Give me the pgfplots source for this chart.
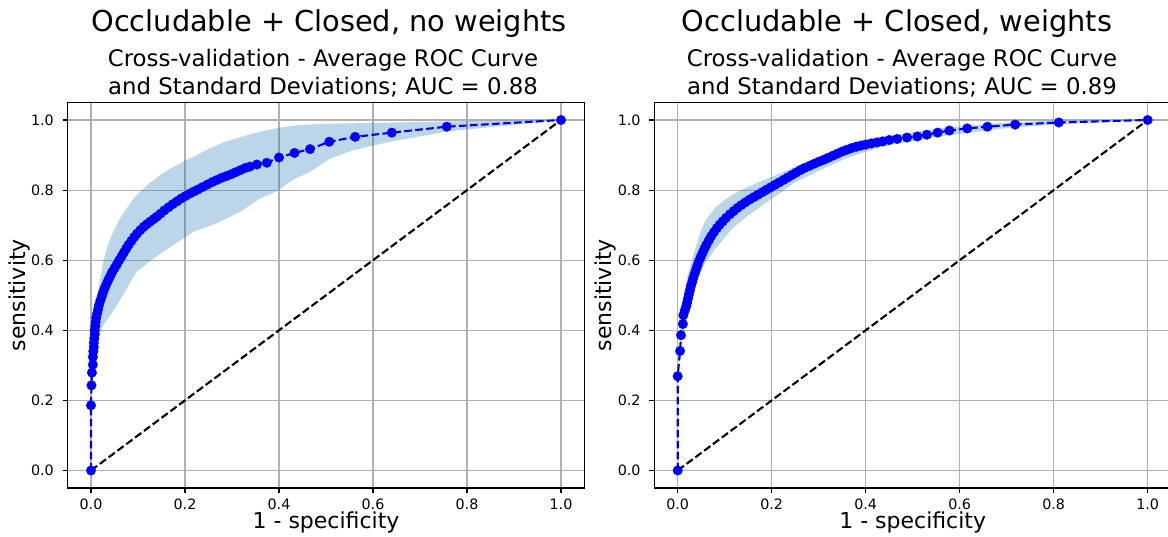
\documentclass[border=0pt]{standalone}
\usepackage{fontspec}
\setmainfont{DejaVu Sans}
\usepackage{pgfplots}
\pgfplotsset{compat=1.18}
\definecolor{gridgray}{HTML}{B0B0B0}
\definecolor{cband}{HTML}{1F77B4}
\definecolor{mblue}{RGB}{0,0,255}
\pgfplotsset{rocstyle/.style={
  scale only axis, width=517pt, height=385.5pt,
  xmin=-0.05, xmax=1.05, ymin=-0.05, ymax=1.05,
  xtick={0,0.2,0.4,0.6,0.8,1}, ytick={0,0.2,0.4,0.6,0.8,1},
  grid=major, grid style={color=gridgray, line width=1.1pt},
  axis line style={line width=1.1pt, black},
  tick align=outside, tick pos=left, major tick length=4.9pt,
  every tick/.style={black, line width=1.1pt},
  /pgf/number format/assume math mode=true,
  /pgf/number format/.cd, fixed, fixed zerofill, precision=1, /pgfplots/.cd,
  tick label style={font=\fontsize{14.3}{16}\selectfont},
  xticklabel style={inner sep=0pt, anchor=north, yshift=-5.4pt},
  yticklabel style={inner sep=0pt, anchor=east, xshift=-8.6pt},
  xlabel={1 - specificity}, ylabel={sensitivity},
  label style={font=\fontsize{22}{26}\selectfont},
  xlabel style={at={(axis description cs:0.5,-0.1038)}, anchor=base},
  ylabel style={at={(axis description cs:-0.0822,0.5)}, anchor=base},
  clip=true,
}}
\begin{document}
\begin{tikzpicture}
\path[use as bounding box] (0,0) rectangle (1168pt,536pt);
% titles
\node[anchor=base, font=\fontsize{28.8}{34}\selectfont] at (329pt,504.3pt) {Occludable + Closed, no weights};
\node[anchor=base, font=\fontsize{22.8}{27}\selectfont] at (323pt,469.3pt) {Cross-validation - Average ROC Curve};
\node[anchor=base, font=\fontsize{22.8}{27}\selectfont] at (323pt,441pt) {and Standard Deviations; AUC = 0.88};
\node[anchor=base, font=\fontsize{28.8}{34}\selectfont] at (897pt,504.3pt) {Occludable + Closed, weights};
\node[anchor=base, font=\fontsize{22.8}{27}\selectfont] at (902pt,469.3pt) {Cross-validation - Average ROC Curve};
\node[anchor=base, font=\fontsize{22.8}{27}\selectfont] at (902pt,441pt) {and Standard Deviations; AUC = 0.89};

% ---------- left ----------
\begin{axis}[rocstyle, at={(67.5pt,48pt)}, anchor=south west]
\addplot[fill=cband, fill opacity=0.3, draw=none, forget plot] coordinates {
(0.005,0.40)(0.01,0.48)(0.016,0.52)(0.026,0.595)(0.035,0.64)(0.044,0.671)(0.06,0.715)(0.076,0.748)(0.09,0.775)(0.104,0.795)(0.125,0.82)(0.147,0.843)(0.17,0.862)(0.196,0.881)(0.225,0.90)(0.253,0.919)(0.28,0.935)(0.31,0.948)(0.34,0.96)(0.374,0.971)(0.41,0.98)(0.445,0.986)(0.5,0.989)(0.537,0.99)(0.6,0.992)(0.728,0.995)(0.85,0.998)(1,1)
(0.757,0.967)(0.636,0.938)(0.558,0.914)(0.509,0.89)(0.466,0.852)(0.43,0.83)(0.40,0.80)(0.36,0.776)(0.317,0.738)(0.267,0.705)(0.218,0.681)(0.175,0.643)(0.133,0.605)(0.097,0.567)(0.076,0.519)(0.051,0.462)(0.026,0.414)(0.015,0.38)(0.0085,0.35)(0.005,0.33)
} -- cycle;
\addplot[black, line width=2.1pt, dash pattern=on 7.7pt off 3.3pt, forget plot] coordinates {(0,0)(1,1)};
\addplot[mblue, line width=2.1pt, dash pattern=on 7.7pt off 3.3pt, mark=*, mark size=4.8pt, mark options={solid, fill=mblue, draw=mblue, line width=0.3pt}] coordinates {
(0,0)(0,0.186)(0.001,0.243)(0.002,0.279)(0.004,0.302)(0.004,0.324)(0.005,0.340)(0.006,0.352)(0.006,0.364)(0.007,0.376)(0.008,0.388)(0.008,0.400)(0.009,0.412)(0.010,0.424)(0.011,0.436)(0.013,0.448)(0.015,0.460)(0.017,0.472)(0.020,0.485)(0.023,0.497)(0.026,0.509)(0.029,0.520)(0.033,0.532)(0.037,0.544)(0.041,0.555)(0.045,0.566)(0.050,0.577)(0.055,0.588)(0.060,0.600)(0.065,0.611)(0.070,0.622)(0.075,0.633)(0.080,0.644)(0.086,0.655)(0.092,0.666)(0.098,0.676)(0.105,0.686)(0.112,0.695)(0.119,0.703)(0.126,0.710)(0.133,0.717)(0.140,0.724)(0.148,0.733)(0.156,0.742)(0.165,0.751)(0.174,0.760)(0.183,0.768)(0.192,0.776)(0.201,0.783)(0.210,0.790)(0.219,0.796)(0.228,0.802)(0.238,0.809)(0.248,0.816)(0.258,0.823)(0.268,0.829)(0.278,0.835)(0.288,0.840)(0.298,0.845)(0.308,0.851)(0.318,0.857)(0.328,0.863)(0.338,0.867)(0.353,0.873)(0.374,0.878)(0.40,0.893)(0.433,0.906)(0.466,0.917)(0.507,0.938)(0.562,0.952)(0.64,0.964)(0.757,0.981)(1,1)
};
\end{axis}

% ---------- right ----------
\begin{axis}[rocstyle, at={(654.2pt,48pt)}, anchor=south west]
\addplot[fill=cband, fill opacity=0.3, draw=none, forget plot] coordinates {
(0.005,0.41)(0.01,0.47)(0.015,0.515)(0.02,0.55)(0.03,0.60)(0.04,0.645)(0.05,0.685)(0.06,0.715)(0.08,0.75)(0.10,0.772)(0.12,0.79)(0.15,0.81)(0.2,0.838)(0.25,0.866)(0.3,0.895)(0.35,0.925)(0.4,0.945)(0.45,0.955)(0.5,0.965)(0.55,0.975)(0.6,0.982)(0.7,0.993)(0.8,0.998)(1,1)
(0.8,0.987)(0.7,0.977)(0.6,0.96)(0.55,0.952)(0.5,0.94)(0.45,0.928)(0.4,0.91)(0.35,0.886)(0.3,0.855)(0.25,0.822)(0.2,0.775)(0.15,0.728)(0.12,0.695)(0.10,0.665)(0.08,0.632)(0.06,0.595)(0.05,0.57)(0.04,0.535)(0.03,0.49)(0.02,0.44)(0.015,0.41)(0.01,0.38)(0.005,0.35)
} -- cycle;
\addplot[black, line width=2.1pt, dash pattern=on 7.7pt off 3.3pt, forget plot] coordinates {(0,0)(1,1)};
\addplot[mblue, line width=2.1pt, dash pattern=on 7.7pt off 3.3pt, mark=*, mark size=4.8pt, mark options={solid, fill=mblue, draw=mblue, line width=0.3pt}] coordinates {
(0,0)(0,0.269)(0.005,0.341)(0.007,0.386)(0.011,0.418)(0.012,0.443)(0.015,0.456)(0.018,0.468)(0.020,0.479)(0.022,0.491)(0.024,0.503)(0.026,0.514)(0.028,0.526)(0.031,0.538)(0.033,0.549)(0.036,0.561)(0.039,0.573)(0.042,0.585)(0.045,0.597)(0.049,0.609)(0.053,0.621)(0.057,0.633)(0.061,0.644)(0.066,0.656)(0.071,0.668)(0.077,0.680)(0.083,0.691)(0.089,0.701)(0.096,0.711)(0.103,0.721)(0.111,0.731)(0.119,0.740)(0.127,0.749)(0.135,0.757)(0.144,0.765)(0.153,0.773)(0.162,0.780)(0.171,0.787)(0.180,0.794)(0.189,0.801)(0.198,0.808)(0.207,0.815)(0.216,0.822)(0.225,0.829)(0.234,0.836)(0.243,0.843)(0.252,0.850)(0.261,0.857)(0.270,0.863)(0.280,0.869)(0.290,0.875)(0.300,0.881)(0.310,0.886)(0.320,0.892)(0.330,0.898)(0.340,0.904)(0.350,0.910)(0.360,0.915)(0.370,0.920)(0.380,0.924)(0.390,0.927)(0.400,0.930)(0.412,0.933)(0.424,0.936)(0.436,0.939)(0.450,0.943)(0.467,0.946)(0.488,0.950)(0.51,0.953)(0.53,0.958)(0.553,0.964)(0.578,0.970)(0.616,0.976)(0.659,0.981)(0.718,0.987)(0.811,0.993)(1,1)
};
\end{axis}
\end{tikzpicture}
\end{document}
